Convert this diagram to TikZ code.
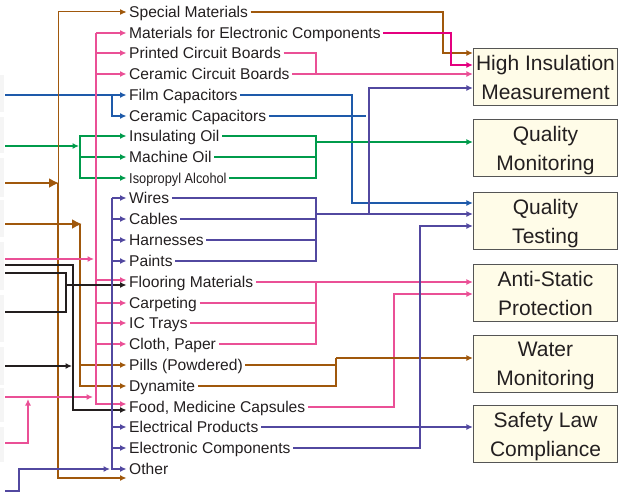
\documentclass[tikz,border=0pt]{standalone}
\usepackage{fontspec}
\setmainfont{Liberation Sans}
\usetikzlibrary{arrows.meta,calc,positioning}
\definecolor{brn}{RGB}{160,88,12}
\definecolor{pnk}{RGB}{234,80,150}
\definecolor{mgt}{RGB}{228,0,127}
\definecolor{blu}{RGB}{30,90,170}
\definecolor{grn}{RGB}{0,155,75}
\definecolor{ppl}{RGB}{82,72,160}
\definecolor{blk}{RGB}{35,30,30}
\definecolor{txt}{RGB}{35,31,32}
\definecolor{boxfill}{RGB}{255,252,232}
\definecolor{boxline}{RGB}{85,85,85}
\tikzstyle{lbl} = [anchor=west, inner xsep=2.5pt, inner ysep=0pt, text height=11.2pt,
text depth=0pt, font=\fontsize{15.6}{18}\selectfont, text=txt]
\tikzstyle{goal} = [draw=boxline, line width=1.2pt, fill=boxfill, minimum width=144pt,
minimum height=57pt, align=center, inner sep=0pt, text depth=0pt,
font=\fontsize{21}{29}\selectfont, text=txt]
\tikzstyle{wire} = [line width=2.2pt]
\tikzstyle{bigtip} = [-{Latex[length=10pt,width=10pt]}]
\tikzset{>={Latex[length=6.5pt,width=6pt]}}

\begin{document}
\begin{tikzpicture}[x=1pt, y=-1pt]
            \useasboundingbox (0,0) rectangle (620,495);
            % faint table cells on the left edge
            \foreach \a/\b in {75/112,117/153,158/197,200/237,242/290,295/342,347/385,388/422,427/462}
            \fill[gray!8] (0,\a) rectangle (4,\b);
            % materials
            \node[lbl] (spe) at (126.5,12) {Special Materials};
            \node[lbl] (mat) at (126.5,33) {Materials for Electronic Components};
            \node[lbl] (pcb) at (126.5,53) {Printed Circuit Boards};
            \node[lbl] (ccb) at (126.5,74) {Ceramic Circuit Boards};
            \node[lbl] (fil) at (126.5,95) {Film Capacitors};
            \node[lbl] (cca) at (126.5,116) {Ceramic Capacitors};
            \node[lbl] (ins) at (126.5,136) {Insulating Oil};
            \node[lbl] (mac) at (126.5,157) {Machine Oil};
            \node[lbl] (iso) at (126.5,178) {\scalebox{0.82}[0.92]{Isopropyl Alcohol}};
            \node[lbl] (wir) at (126.5,198) {Wires};
            \node[lbl] (cab) at (126.5,219) {Cables};
            \node[lbl] (har) at (126.5,240) {Harnesses};
            \node[lbl] (pai) at (126.5,261) {Paints};
            \node[lbl] (flo) at (126.5,282) {Flooring Materials};
            \node[lbl] (car) at (126.5,303) {Carpeting};
            \node[lbl] (ict) at (126.5,323) {IC Trays};
            \node[lbl] (clo) at (126.5,344) {Cloth, Paper};
            \node[lbl] (pil) at (126.5,365) {Pills (Powdered)};
            \node[lbl] (dyn) at (126.5,386) {Dynamite};
            \node[lbl] (foo) at (126.5,407) {Food, Medicine Capsules};
            \node[lbl] (ele) at (126.5,427) {Electrical Products};
            \node[lbl] (eco) at (126.5,448) {Electronic Components};
            \node[lbl] (oth) at (126.5,469) {Other};
            % applications
            \node[goal] (him) at (545.5,77) {High Insulation\\Measurement};
            \node[goal] (qmo) at (545.5,148) {Quality\\Monitoring};
            \node[goal] (qte) at (545.5,221) {Quality\\Testing};
            \node[goal] (asp) at (545.5,293) {Anti-Static\\Protection};
            \node[goal] (wmo) at (545.5,364) {Water\\Monitoring};
            \node[goal] (slc) at (545.5,434) {Safety Law\\Compliance};
            % incoming ends
            \coordinate (inBlu) at (5,95);
            \coordinate (inGrn) at (5,146);
            \coordinate (inBrA) at (5,183);
            \coordinate (inBrB) at (5,224);
            \coordinate (inPkA) at (5,259);
            \coordinate (inBkA) at (5,265);
            \coordinate (inBkB) at (5,273);
            \coordinate (inBkC) at (5,312);
            \coordinate (inBkD) at (5,366);
            \coordinate (inPkB) at (5,397);
            \coordinate (inPkC) at (5,443);
            \coordinate (inPpl) at (5,491);
            % left side
            \draw[wire,blu,->] (inBlu) -- (fil.west);
            \draw[wire,blu,->] (fil.west -| 112,0) |- (cca.west);
            \draw[wire,grn,->] (inGrn) -- (79,146);
            \draw[wire,grn,->] (80,146) |- (ins.west);
            \draw[wire,grn,->] (80,146) |- (iso.west);
            \draw[wire,grn,->] (mac.west -| 80,0) -- (mac.west);
            \draw[wire,brn,bigtip] (inBrA) -- (59,183);
            \draw[line width=1pt,brn,->] (58,183) |- (spe.west);
            \draw[wire,brn,->] (58,183) |- (oth.west |- 0,478);
            \draw[wire,brn,bigtip] (inBrB) -- (82,224);
            \draw[wire,brn,->] (80,224) |- (dyn.west);
            \draw[wire,brn,->] (pil.west -| 80,0) -- (pil.west);
            \draw[wire,pnk,->] (inPkA) -- (94,259);
            \draw[wire,pnk,->] (inPkB) -- (93,397);
            \draw[wire,pnk,->] (inPkC) -| (28,399);
            \draw[wire,pnk,->] (mat.west -| 96,0) |- ([yshift=3pt]foo.west);
            \draw[wire,pnk,->] (mat.west -| 96,0) -- (mat.west);
            \draw[wire,pnk,->] (pcb.west -| 96,0) -- (pcb.west);
            \draw[wire,pnk,->] (ccb.west -| 96,0) -- (ccb.west);
            \draw[wire,pnk,->] ([yshift=2pt]flo.west -| 96,0) -- ([yshift=2pt]flo.west);
            \draw[wire,pnk,->] (car.west -| 96,0) -- (car.west);
            \draw[wire,pnk,->] (ict.west -| 96,0) -- (ict.west);
            \draw[wire,pnk,->] (clo.west -| 96,0) -- (clo.west);
            \draw[wire,blk,->] (inBkA) -- (73,265) |- ([yshift=-3pt]foo.west);
            \draw[wire,blk,->] (inBkD) -- (72,366);
            \draw[wire,blk,->] (inBkB) -- (66,273) |- ([yshift=-3pt]flo.west);
            \draw[wire,blk] (inBkC) -| (66,284);
            \draw[wire,ppl,->] (inPpl) -| (19,469) -- (110,469);
            \draw[wire,ppl,->] (wir.west -| 112,0) |- (oth.west);
            \draw[wire,ppl,->] (wir.west -| 112,0) -- (wir.west);
            \draw[wire,ppl,->] (cab.west -| 112,0) -- (cab.west);
            \draw[wire,ppl,->] (har.west -| 112,0) -- (har.west);
            \draw[wire,ppl,->] (pai.west -| 112,0) -- (pai.west);
            \draw[wire,ppl,->] (ele.west -| 112,0) -- (ele.west);
            \draw[wire,ppl,->] (eco.west -| 112,0) -- (eco.west);
            % right side
            \draw[line width=1.6pt,brn,->] (spe.east) -| (443,53) -- (him.west |- 0,53);
            \draw[wire,mgt,->] (mat.east) -| (451,65) -- (him.west |- 0,65);
            \draw[wire,pnk] (pcb.east) -| (ccb.east -| 316,0);
            \draw[wire,pnk,->] (ccb.east) -- (him.west |- ccb.east);
            \draw[wire,blu,->] (fil.east) -| (352,203) -- (qte.west |- 0,203);
            \draw[wire,blu] (cca.east) -- (cca.east -| 366,0);
            \draw[wire,grn] (ins.east) -| (iso.east -| 316,0) -- (iso.east);
            \draw[wire,grn] (mac.east) -- (mac.east -| 316,0);
            \draw[wire,grn,->] (316,142) -- (qmo.west |- 0,142);
            \draw[wire,ppl] (wir.east) -| (pai.east -| 316,0) -- (pai.east);
            \draw[wire,ppl] (cab.east) -- (cab.east -| 316,0);
            \draw[wire,ppl] (har.east) -- (har.east -| 316,0);
            \draw[wire,ppl,->] (316,214) -- (qte.west |- 0,214);
            \draw[wire,ppl,->] (369,214) |- (him.west |- 0,88);
            \draw[wire,pnk] (flo.east) -| (clo.east -| 316,0) -- (clo.east);
            \draw[wire,pnk] (car.east) -- (car.east -| 316,0);
            \draw[wire,pnk] (ict.east) -- (ict.east -| 316,0);
            \draw[wire,pnk,->] (flo.east -| 316,0) -- (asp.west |- flo.east);
            \draw[wire,pnk,->] (foo.east) -| (394,294) -- (asp.west |- 0,294);
            \draw[wire,brn] (pil.east) -| (336,358);
            \draw[wire,brn] (dyn.east) -| (336,358);
            \draw[wire,brn,->] (336,358) -- (wmo.west |- 0,358);
            \draw[wire,ppl,->] (ele.east) -- (slc.west |- ele.east);
            \draw[wire,ppl,->] (eco.east) -| (420,226) -- (qte.west |- 0,226);
\end{tikzpicture}
\end{document}
